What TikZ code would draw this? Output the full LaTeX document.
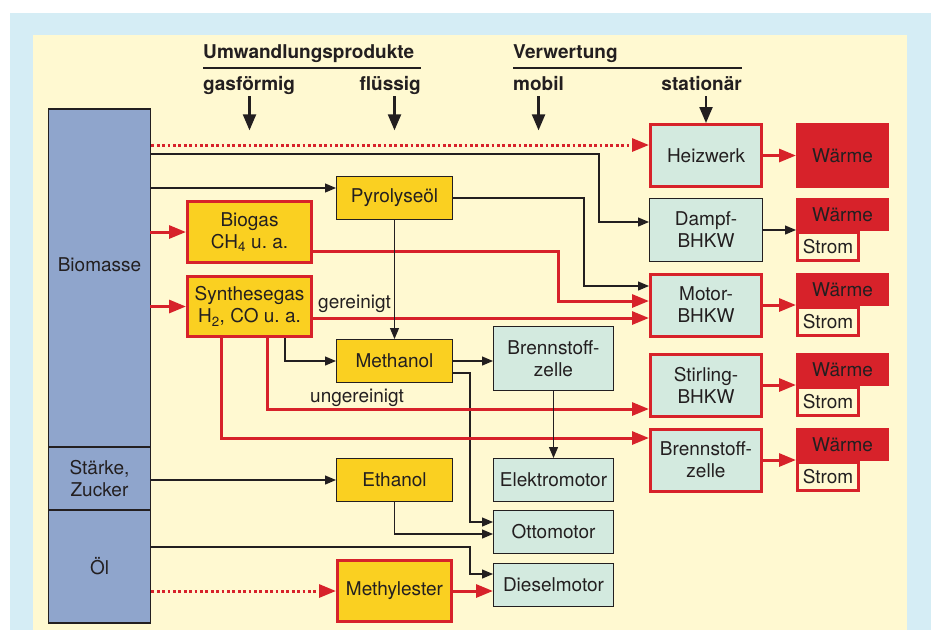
\documentclass[tikz,border=0pt]{standalone}
\usepackage{fontspec}
\setmainfont{TeX Gyre Heros}
\usepackage{tikz}
\usetikzlibrary{calc}
\usetikzlibrary{positioning}
\usetikzlibrary{arrows.meta}

\definecolor{bgblue}{HTML}{D5EDF5}
\definecolor{bgcream}{HTML}{FFF9D1}
\definecolor{biofill}{HTML}{8FA5CC}
\definecolor{prodyel}{HTML}{FAD021}
\definecolor{usegreen}{HTML}{D3EADF}
\definecolor{hotred}{HTML}{D7222A}
\definecolor{ink}{HTML}{231F20}

\begin{document}
\begin{tikzpicture}[x=1pt, y=-1pt,
    every node/.style={font=\fontsize{19}{22}\selectfont, text=ink, align=center},
    hdtext/.style={font=\bfseries\fontsize{19}{22}\selectfont, inner sep=0pt},
    unitbox/.style={draw=ink, line width=1.2pt, inner sep=0pt},
    prod/.style={unitbox, fill=prodyel, minimum width=115.8pt, minimum height=42.8pt},
    prodred/.style={unitbox, fill=prodyel, draw=hotred, line width=3pt},
    mobbox/.style={unitbox, fill=usegreen, minimum width=119.8pt, minimum height=42.8pt},
    statbox/.style={unitbox, fill=usegreen, draw=hotred, line width=3pt,
      minimum width=111pt, minimum height=62pt},
    biobox/.style={unitbox, fill=biofill, minimum width=101.8pt, outer sep=0pt},
    waerme/.style={fill=hotred, minimum width=93pt, minimum height=33pt, inner sep=0pt, outer sep=0pt},
    strom/.style={fill=bgcream, draw=hotred, line width=2.7pt, minimum width=61.3pt,
      minimum height=28.3pt, inner sep=0pt},
    arr/.style={draw=ink, line width=1.2pt, -{Triangle[length=11pt,width=9pt]}},
    redarr/.style={draw=hotred, line width=3pt, -{Triangle[length=17pt,width=13pt]}},
    reddot/.style={redarr, dash pattern=on 2.8pt off 2.6pt},
    hdarr/.style={draw=ink, line width=2.2pt, -{Triangle[length=16pt,width=13pt]}},
    uline/.style={draw=ink, line width=2.2pt}]

  \fill[bgblue] (10,13) rectangle (931,630);
  \fill[bgcream] (33,35) rectangle (907,630);
  \useasboundingbox (0,0) rectangle (931,630);

  \node[hdtext, anchor=base west] (h1) at (203,58) {Umwandlungsprodukte};
  \node[hdtext, anchor=base west] (gas) at (203,90) {gasförmig};
  \node[hdtext, anchor=base east] (fl) at (421,90) {flüssig};
  \node[hdtext, anchor=base west] (h2) at (513,58) {Verwertung};
  \node[hdtext, anchor=base west] (mobhd) at (513,90) {mobil};
  \node[hdtext, anchor=base east] (stathd) at (742,90) {stationär};
  \coordinate (u1) at ($(h1.base west)+(0,10)$);
  \coordinate (u2) at ($(h2.base west)+(0,10)$);
  \draw[uline] (u1) -- (u1 -| fl.east);
  \draw[uline] (u2) -- (u2 -| stathd.east);

  \node[biobox, minimum height=338pt,
    label={[name=biolbl, yshift=13pt]center:Biomasse}] (bio) at (99.5,278) {};
  \node[biobox, minimum height=63pt, below=0pt of bio] (staerke) {Stärke,\\Zucker};
  \node[biobox, minimum height=113pt, below=0pt of staerke] (oel) {Öl};

  \node[prod] (pyro) at (394.5,198) {Pyrolyseöl};
  \node[prodred, minimum width=124pt, minimum height=61pt] (biogas) at (249.5,232)
    {Biogas\\CH\textsubscript{4} u.\ a.};
  \node[prodred, minimum width=124pt, minimum height=60pt] (syn) at (249.5,306.5)
    {Synthesegas\\H\textsubscript{2}, CO u.\ a.};
  \node[prod] (meth) at (394.5,361) {Methanol};
  \node[prod] (eth) at (394.5,480) {Ethanol};
  \node[prodred, minimum width=114pt, minimum height=61pt] (mest) at (394.5,591) {Methylester};

  \node[mobbox, minimum height=63.8pt] (bzm) at (553.5,358.5) {Brennstoff-\\zelle};
  \node[mobbox] (elek) at (553.5,480) {Elektromotor};
  \node[mobbox] (otto) at (553.5,532) {Ottomotor};
  \node[mobbox] (diesel) at (553.5,585) {Dieselmotor};

  \node[statbox] (heiz) at (706,155.5) {Heizwerk};
  \node[unitbox, fill=usegreen, minimum width=112.8pt, minimum height=62.8pt] (dampf) at (706,230)
    {Dampf-\\BHKW};
  \node[statbox] (motor) at (706,305) {Motor-\\BHKW};
  \node[statbox] (stir) at (706,385) {Stirling-\\BHKW};
  \node[statbox] (bzs) at (706,460) {Brennstoff-\\zelle};

  \node[waerme, minimum height=65pt] (w1) at (842.5,155.5) {Wärme};
  \foreach \nm/\yy in {2/231, 3/306, 4/386, 5/461}{
    \node[waerme, anchor=south west] (w\nm) at (796,\yy) {Wärme};
    \node[strom, anchor=north west] (s\nm) at (796,\yy) {Strom};
  }

  \draw[hdarr] ($(gas.south -| biogas.north)+(0,2)$) -- ++(0,34);
  \draw[hdarr] ($(fl.south -| pyro.north)+(0,2)$) -- ++(0,34);
  \draw[hdarr] ($(mobhd.south)+(0,6)$) -- ++(0,34);
  \draw[hdarr] ($(stathd.south -| heiz.north)+(0,6)$) -- (heiz.north);

  \draw[reddot] ($(bio.east |- heiz.west)+(1,-10.5)$) -- ($(heiz.west)+(0,-10.5)$);
  \draw[arr] ($(bio.east |- heiz.west)+(0,-1.5)$) -| ($(dampf.west)+(-50,-8)$) -- ($(dampf.west)+(0,-8)$);
  \draw[arr] ($(bio.east |- pyro.west)+(0,-10)$) -- ($(pyro.west)+(0,-10)$);
  \draw[redarr] (bio.east |- biogas.west) -- (biogas.west);
  \draw[redarr] (bio.east |- syn.west) -- (syn.west);

  \draw[redarr] ($(biogas.east)+(0,19)$) -| ($(motor.west)+(-91,-4)$) -- ($(motor.west)+(0,-4)$);
  \coordinate (g1) at ($(syn.east)+(0,11.5)$);
  \draw[redarr] (g1) -- (g1 -| motor.west);
  \node[anchor=base west, inner sep=0pt] (ger) at ($(g1)+(5,-10)$) {gereinigt};
  \draw[arr] (pyro.east) -| ($(motor.west)+(-65,-19)$) -- ($(motor.west)+(0,-19)$);
  \draw[arr] (pyro.south) -- (meth.north);
  \draw[arr] ($(syn.south)+(35.5,0)$) |- (meth.west);
  \draw[arr] (meth.east) -- (meth.east -| bzm.west);
  \draw[arr] ($(meth.east)+(0,12)$) -| ($(otto.west)+(-23,-10)$) -- ($(otto.west)+(0,-10)$);

  \coordinate (ug) at ($(syn.south)+(17.5,0)$);
  \draw[redarr] (ug) |- ($(stir.west)+(0,24)$);
  \node[anchor=base west, inner sep=0pt] (unger) at ($(ug |- stir.west)+(43,17)$) {ungereinigt};
  \draw[redarr] ($(syn.south)+(-28.5,0)$) |- ($(bzs.west)+(0,-22)$);

  \draw[arr] (bzm.south) -- (elek.north);
  \draw[arr] (staerke.east |- eth.west) -- (eth.west);
  \draw[arr] (eth.south) |- ($(otto.west)+(0,2)$);
  \draw[arr] ($(oel.east)+(0,-19.5)$) -| ($(diesel.west)+(-23,-11)$) -- ($(diesel.west)+(0,-11)$);
  \draw[reddot] ($(oel.east |- mest.west)+(1,0)$) -- (mest.west);
  \draw[redarr] (mest.east) -- (mest.east -| diesel.west);

  \draw[redarr] (heiz.east) -- (w1.west);
  \draw[arr] (dampf.east) -- (dampf.east -| w2.west);
  \foreach \src/\nm in {motor/3, stir/4, bzs/5}{
    \draw[redarr] (\src.east) -- (\src.east -| w\nm.west);
  }
\end{tikzpicture}
\end{document}
